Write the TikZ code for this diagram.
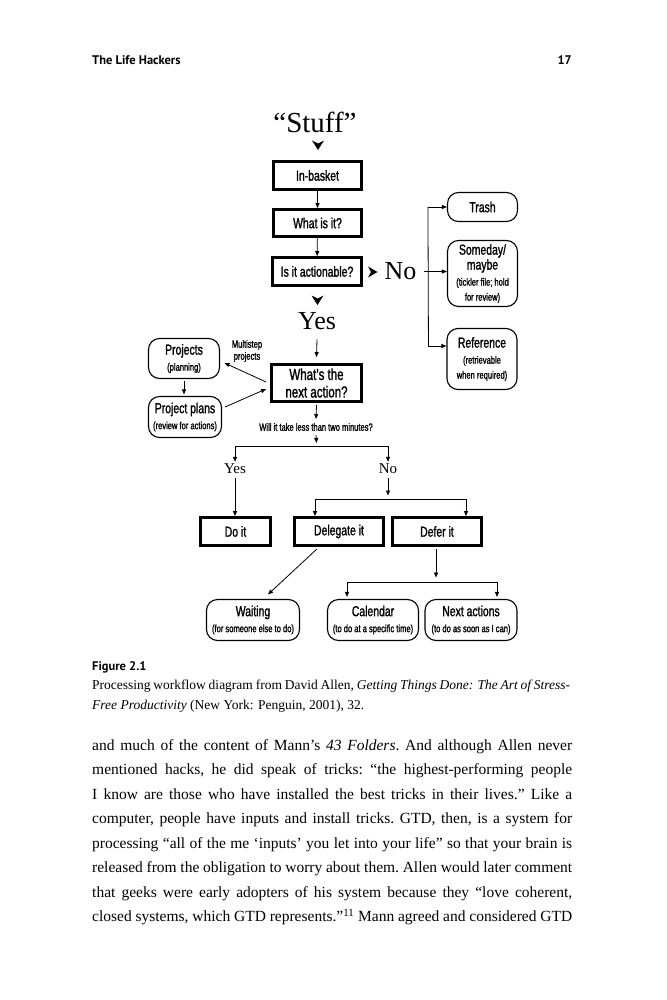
\documentclass[tikz,border=0pt]{standalone}
\usepackage{fontspec}
\setmainfont{Liberation Serif}
\newfontfamily\cnd[FakeStretch=0.72,FakeBold=1.3]{Liberation Sans}
\newfontfamily\hsans{PT Sans}
\usetikzlibrary{arrows.meta,calc}
\newcommand\fsz[2]{\fontsize{#1}{#2}\selectfont}
\newcommand\subt{\fsz{10.5}{11.5}}
\newcommand\jline[1]{\hbox to 480pt{#1}}
\begin{document}
\begin{tikzpicture}[x=1pt,y=-1pt,
 sqbox/.style={draw, line width=2.8pt, inner sep=0pt, align=center, font=\cnd\fsz{14.5}{16}},
 rbox/.style={draw, line width=1.1pt, rounded corners=11pt, inner sep=0pt, align=center, font=\cnd\fsz{14.5}{15}},
 arr/.style={line width=0.8pt, -{Triangle[length=5pt,width=4pt]}},
 ln/.style={line width=0.8pt},
 bigserif/.style={inner sep=0pt, font=\fsz{26}{28}},
 smserif/.style={inner sep=1pt, font=\fsz{15}{17}},
 lab/.style={inner sep=0pt, align=center, font=\cnd\fsz{10.5}{12}},
 chev/.style={fill=black}
]
\fill[white] (0,0) rectangle (666,1000);
\useasboundingbox (0,0) rectangle (666,1000);

% header
\node[anchor=base west, inner sep=0pt, font=\hsans\bfseries\fsz{12.5}{14}] (hdr) at (92,65) {The Life Hackers};
\node[anchor=base east, inner sep=0pt, font=\hsans\bfseries\fsz{12.5}{14}] (pg) at (572,65) {17};

% diagram: upper part
\node[bigserif, font=\fsz{29}{30}] (stuff) at (315,122) {“Stuff”};
\coordinate (c1) at (318,145);
\coordinate (c2) at (317.5,300);
\coordinate (c3) at (372.5,272);
\fill[chev] ($(c1)+(-6,-4.5)$) -- ($(c1)+(0,5)$) -- ($(c1)+(6,-4.5)$) -- ($(c1)+(0,-1.5)$) -- cycle;
\fill[chev] ($(c2)+(-6,-4.5)$) -- ($(c2)+(0,5)$) -- ($(c2)+(6,-4.5)$) -- ($(c2)+(0,-1.5)$) -- cycle;
\fill[chev] ($(c3)+(-4.5,-5.5)$) -- ($(c3)+(5,0)$) -- ($(c3)+(-4.5,5.5)$) -- ($(c3)+(-1.5,0)$) -- cycle;

\node[sqbox, minimum width=88pt, minimum height=28pt] (inbasket) at (317.5,175.5) {In-basket};
\node[sqbox, minimum width=88pt, minimum height=27pt] (whatis) at (317.5,223) {What is it?};
\node[sqbox, minimum width=89pt, minimum height=28pt] (action) at (317,271.5) {Is it actionable?};
\node[bigserif] (no) at (400.5,271.5) {No};
\node[bigserif] (yes) at (317,321.5) {Yes};

\node[rbox, minimum width=70pt, minimum height=29pt] (trash) at (482.5,207) {Trash};
\node[rbox, minimum width=70pt, minimum height=66pt] (someday) at (482.5,273.5) {Someday/\\maybe\\[1pt]{\subt (tickler file; hold}\\{\subt for review)}};
\node[rbox, minimum width=70pt, minimum height=61pt] (reference) at (482,359) {Reference\\[1pt]{\subt (retrievable}\\{\subt when required)}};

\draw[arr] (inbasket) -- (whatis);
\draw[arr] (whatis) -- (action);
\coordinate (bt) at ($(trash.west)+(-19,0)$);
\coordinate (bb) at ($(reference.west)+(-18,-13)$);
\draw[arr] ($(no.east)+(7,0)$) -- (someday.west |- no.east);
\draw[ln] (bt) -- (bb);
\draw[arr] (bt) -- (trash.west);
\draw[arr] (bb) -- (bb -| reference.west);

% middle part
\node[sqbox, font=\cnd\fsz{16}{17.5}, minimum width=90pt, minimum height=37pt] (next) at (316.5,383) {What’s the\\next action?};
\node[rbox, minimum width=71pt, minimum height=40pt] (projects) at (184,358.5) {Projects\\[1pt]{\subt (planning)}};
\node[rbox, minimum width=73pt, minimum height=41pt] (plans) at (185,417) {Project plans\\[1pt]{\subt (review for actions)}};
\node[lab, font=\cnd\fsz{10.5}{12}] (multi) at (247,351) {Multistep\\projects};
\node[lab] (q) at (316,427) {Will it take less than two minutes?};

\draw[arr] ($(yes.south)+(0,9)$) -- ($(next.north)+(0,-6)$);
\draw[arr] ($(projects.south)+(0,2)$) -- ($(plans.north)+(-1,-1.5)$);
\draw[arr] ($(next.west)+(-4,-1)$) -- ($(projects.east)+(4.5,4.5)$);
\draw[arr] ($(plans.east)+(3,-10)$) -- ($(next.west)+(-4,6)$);
\draw[arr] ($(next.south)+(0,2)$) -- ($(q.north)+(0,-4)$);

% decision split
\coordinate (h1) at (316.5,446);
\coordinate (hl) at (235,446);
\coordinate (hr) at (388,446);
\node[smserif] (yes2) at (235,469) {Yes};
\node[smserif] (no2) at (388,469) {No};
\draw[arr] ($(q.south)+(0,4)$) -- ($(h1)+(0,-3)$);
\draw[ln] (hl) -- (hr);
\draw[arr] (hl) -- ($(hl |- yes2.north)+(0,-1)$);
\draw[arr] (hr) -- ($(hr |- no2.north)+(0,-1)$);

\node[sqbox, minimum width=70pt, minimum height=28pt] (doit) at (235.5,531.5) {Do it};
\node[sqbox, minimum width=89pt, minimum height=28pt] (delegate) at (339,531.5) {Delegate it};
\node[sqbox, minimum width=89pt, minimum height=28pt] (defer) at (437,531.5) {Defer it};

\draw[arr] ($(yes2.south)+(0,3)$) -- (yes2.south |- doit.north);
\coordinate (h2m) at (388,499);
\coordinate (h2l) at (315,499);
\coordinate (h2r) at (466,499);
\draw[arr] ($(no2.south)+(0,3)$) -- ($(h2m)+(0,-3.5)$);
\draw[ln] (h2l) -- (h2r);
\draw[arr] (h2l) -- (h2l |- delegate.north);
\draw[arr] (h2r) -- (h2r |- defer.north);

% bottom row
\node[rbox, minimum width=93pt, minimum height=41pt] (waiting) at (253,620) {Waiting\\[1pt]{\subt (for someone else to do)}};
\node[rbox, minimum width=91pt, minimum height=41pt] (calendar) at (373,620) {Calendar\\[1pt]{\subt (to do at a specific time)}};
\node[rbox, minimum width=92pt, minimum height=41pt] (nextact) at (471,620) {Next actions\\[1pt]{\subt (to do as soon as I can)}};

\draw[arr] ($(delegate.south)+(-22,2)$) -- ($(waiting.north)+(15,-4.5)$);
\coordinate (h3m) at (436,582);
\coordinate (h3l) at (347,582);
\coordinate (h3r) at (497,582);
\draw[arr] ($(h3m |- defer.south)+(0,2)$) -- ($(h3m)+(0,-4.5)$);
\draw[ln] (h3l) -- (h3r);
\draw[arr] (h3l) -- ($(h3l |- calendar.north)+(0,-2)$);
\draw[arr] (h3r) -- ($(h3r |- nextact.north)+(0,-2)$);

% caption
\node[anchor=base west, inner sep=0pt, font=\hsans\bfseries\fsz{12.5}{14}] (figlab) at (92,670) {Figure 2.1};
\node[anchor=base west, inner sep=0pt, font=\fsz{13.5}{20.5}] (cap) at (92,689) {\vtop{\hbox to 478pt{Processing workflow diagram from David Allen, \textit{Getting Things Done: The Art of Stress-}}\hbox{\textit{Free Productivity} (New York: Penguin, 2001), 32.}}};

% body text
\node[anchor=base west, inner sep=0pt, font=\fsz{15.5}{24.5}] (body) at (92,750) {\vtop{\frenchspacing\spaceskip=0.25em plus 0.3em minus 0.09em
\jline{and much of the content of Mann’s \textit{43 Folders}. And although Allen never}
\jline{mentioned hacks, he did speak of tricks: “the highest-performing people}
\jline{I know are those who have installed the best tricks in their lives.” Like a}
\jline{computer, people have inputs and install tricks. GTD, then, is a system for}
\jline{processing “all of the me ‘inputs’ you let into your life” so that your brain is}
\jline{released from the obligation to worry about them. Allen would later comment}
\jline{that geeks were early adopters of his system because they “love coherent,}
\jline{closed systems, which GTD represents.”\textsuperscript{11} Mann agreed and considered GTD}}};
\end{tikzpicture}
\end{document}
